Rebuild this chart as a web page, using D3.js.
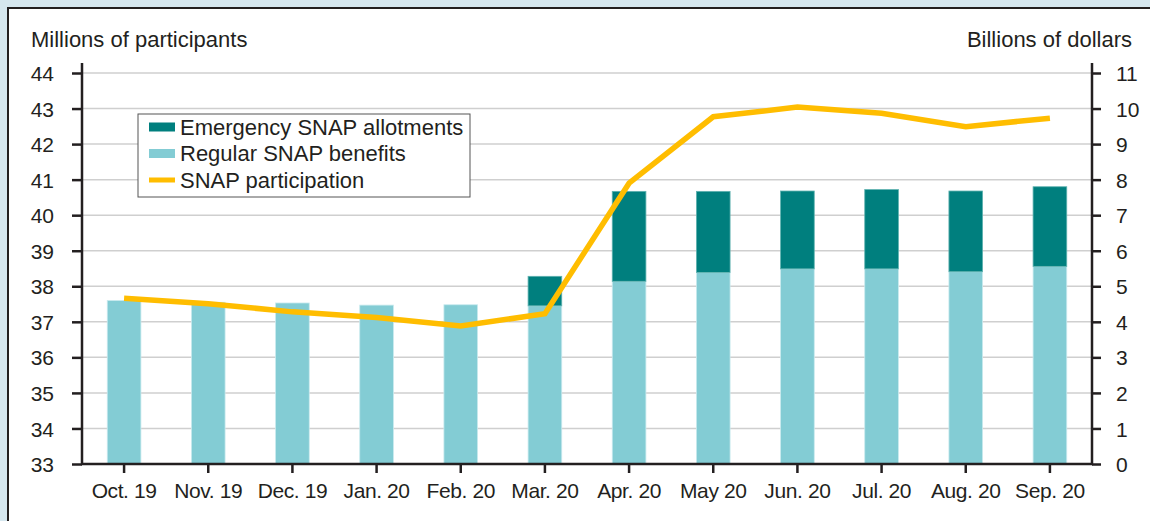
<!DOCTYPE html>
<html>
<head>
<meta charset="utf-8">
<script src="https://cdn.jsdelivr.net/npm/d3@7"></script>
<style>
  body { margin: 0; background: #d6e7ef; }
  #chart { position: absolute; left: 0; top: 0; }
  text { font-family: "Liberation Sans", Arial, sans-serif; fill: #231f20; }
</style>
</head>
<body>
<div id="chart"></div>
<script>
// months on the x axis
var months = ["Oct. 19", "Nov. 19", "Dec. 19", "Jan. 20", "Feb. 20", "Mar. 20",
              "Apr. 20", "May 20", "Jun. 20", "Jul. 20", "Aug. 20", "Sep. 20"];
// billions of dollars (right axis)
var regular   = [4.60, 4.55, 4.53, 4.47, 4.48, 4.45, 5.14, 5.39, 5.49, 5.49, 5.41, 5.56];
var emergency = [0, 0, 0, 0, 0, 0.83, 2.53, 2.28, 2.19, 2.23, 2.27, 2.24];
// millions of participants (left axis)
var participants = [37.66, 37.51, 37.28, 37.12, 36.88, 37.23, 40.90, 42.77, 43.04, 42.87, 42.49, 42.73];

var leftTicks = d3.range(33, 45);
var rightTicks = d3.range(0, 12);

var W = 1150, H = 521;
var margin = {top: 73, right: 58, bottom: 57, left: 82},
    width = W - margin.left - margin.right,
    height = H - margin.top - margin.bottom;

var svgRoot = d3.select("#chart").append("svg")
  .attr("width", W).attr("height", H);

// panel
svgRoot.append("rect")
  .attr("x", 8).attr("y", 8)
  .attr("width", W).attr("height", H)
  .attr("fill", "#fff")
  .attr("stroke", "#231f20").attr("stroke-width", 2);

var svg = svgRoot.append("g")
  .attr("transform", "translate(" + margin.left + "," + margin.top + ")");

var x = d3.scaleBand().domain(months).range([0, width]).paddingInner(0.6).paddingOuter(0.3);
var yL = d3.scaleLinear().domain([33, 44]).range([height, 0]);
var yR = d3.scaleLinear().domain([0, 11]).range([height, 0]);

// gridlines
svg.selectAll(".grid")
  .data(leftTicks.slice(1))
  .enter().append("line")
  .attr("x1", 0).attr("x2", width)
  .attr("y1", function(d){ return yL(d); })
  .attr("y2", function(d){ return yL(d); })
  .attr("stroke", "#cfcfcf").attr("stroke-width", 1.5);

// bars: regular
svg.selectAll(".reg")
  .data(months)
  .enter().append("rect")
  .attr("x", function(d){ return x(d); })
  .attr("width", x.bandwidth())
  .attr("y", function(d, i){ return yR(regular[i]); })
  .attr("height", function(d, i){ return yR(0) - yR(regular[i]); })
  .attr("fill", "#83ccd4")
  .attr("stroke", "#c9eaee").attr("stroke-width", 0.8);

// bars: emergency
svg.selectAll(".emg")
  .data(months.filter(function(d, i){ return emergency[i] > 0; }))
  .enter().append("rect")
  .attr("x", function(d){ return x(d); })
  .attr("width", x.bandwidth())
  .attr("y", function(d){ var i = months.indexOf(d); return yR(regular[i] + emergency[i]); })
  .attr("height", function(d){ var i = months.indexOf(d); return yR(regular[i]) - yR(regular[i] + emergency[i]); })
  .attr("fill", "#007f7e")
  .attr("stroke", "#5fb2b0").attr("stroke-width", 0.8);

// participation line
var line = d3.line()
  .x(function(d, i){ return x(months[i]) + x.bandwidth() / 2; })
  .y(function(d){ return yL(d); });

svg.append("path")
  .datum(participants)
  .attr("d", line)
  .attr("fill", "none")
  .attr("stroke", "#ffbd00")
  .attr("stroke-width", 5.5)
  .attr("stroke-linejoin", "miter");

// axes
var axL = svg.append("g")
  .call(d3.axisLeft(yL).tickValues(leftTicks).tickSize(10).tickPadding(18).tickFormat(d3.format("d")));
var axR = svg.append("g")
  .attr("transform", "translate(" + width + ",0)")
  .call(d3.axisRight(yR).tickValues(rightTicks).tickSize(9).tickPadding(15).tickFormat(d3.format("d")));
var axB = svg.append("g")
  .attr("transform", "translate(0," + height + ")")
  .call(d3.axisBottom(x).tickSize(9).tickPadding(10).tickSizeOuter(0));

[axL, axR, axB].forEach(function(a){
  a.select(".domain").remove();
  a.selectAll(".tick line").attr("stroke", "#231f20").attr("stroke-width", 2.5);
  a.selectAll("text").attr("font-size", "21px").attr("fill", "#231f20");
});
axL.selectAll("text").attr("dy", "0.36em");
axR.selectAll("text").attr("dy", "0.36em");
axB.selectAll("text").attr("letter-spacing", "-0.4px");

// axis frame lines
svg.append("line").attr("x1", 0).attr("x2", 0).attr("y1", -10).attr("y2", height)
  .attr("stroke", "#231f20").attr("stroke-width", 2.5);
svg.append("line").attr("x1", width).attr("x2", width).attr("y1", -10).attr("y2", height)
  .attr("stroke", "#231f20").attr("stroke-width", 2.5);
svg.append("line").attr("x1", -1).attr("x2", width + 1).attr("y1", height).attr("y2", height)
  .attr("stroke", "#231f20").attr("stroke-width", 2.5);

// axis titles
svgRoot.append("text")
  .attr("x", 31).attr("y", 47)
  .attr("font-size", "22px")
  .text("Millions of participants");
svgRoot.append("text")
  .attr("x", 1132).attr("y", 47)
  .attr("text-anchor", "end")
  .attr("font-size", "22px")
  .text("Billions of dollars");

// legend
var legendItems = [
  {name: "Emergency SNAP allotments", color: "#007f7e", h: 9},
  {name: "Regular SNAP benefits", color: "#83ccd4", h: 9},
  {name: "SNAP participation", color: "#ffbd00", h: 5}
];
var lg = svgRoot.append("g").attr("transform", "translate(138,114)");
lg.append("rect")
  .attr("width", 332).attr("height", 83)
  .attr("fill", "#fff").attr("stroke", "#555").attr("stroke-width", 1);
lg.selectAll(".sw")
  .data(legendItems)
  .enter().append("rect")
  .attr("x", 11).attr("width", 26)
  .attr("y", function(d, i){ return 13 + i * 26.5 - d.h / 2; })
  .attr("height", function(d){ return d.h; })
  .attr("fill", function(d){ return d.color; });
lg.selectAll(".lt")
  .data(legendItems)
  .enter().append("text")
  .attr("x", 42)
  .attr("y", function(d, i){ return 13 + i * 26.5; })
  .attr("dy", "0.36em")
  .attr("font-size", "22px")
  .text(function(d){ return d.name; });
</script>
</body>
</html>
